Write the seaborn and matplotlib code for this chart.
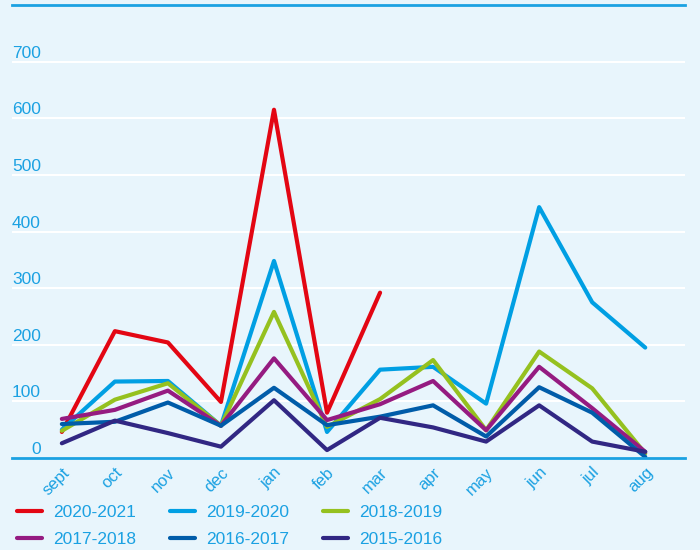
import numpy as np
import pandas as pd
import seaborn as sns
import matplotlib
matplotlib.use("Agg")
from matplotlib import pyplot as plt

# Monthly values per season
months = ["sept", "oct", "nov", "dec", "jan", "feb", "mar", "apr", "may", "jun", "jul", "aug"]
s2020_2021 = [46, 224, 204, 99, 615, 80, 292, np.nan, np.nan, np.nan, np.nan, np.nan]
s2019_2020 = [50, 135, 136, 57, 348, 46, 156, 161, 96, 443, 275, 195]
s2018_2019 = [48, 103, 132, 57, 258, 55, 104, 173, 49, 188, 123, 8]
s2017_2018 = [69, 85, 119, 57, 176, 67, 95, 136, 49, 161, 88, 11]
s2016_2017 = [60, 64, 98, 57, 124, 58, 73, 93, 38, 125, 80, 2]
s2015_2016 = [26, 66, 44, 20, 102, 14, 71, 54, 29, 93, 29, 11]
seasons = ["2020-2021", "2019-2020", "2018-2019", "2017-2018", "2016-2017", "2015-2016"]
colors = ["#e30613", "#009fe3", "#95c11f", "#951b81", "#005ca9", "#312783"]
yticks = [0, 100, 200, 300, 400, 500, 600, 700]

series = [s2020_2021, s2019_2020, s2018_2019, s2017_2018, s2016_2017, s2015_2016]
df = pd.concat(
    [pd.DataFrame({"month": months, "value": vals, "season": name}) for name, vals in zip(seasons, series)],
    ignore_index=True,
)

bg = "#e8f5fc"
txt = "#1ba1e2"

sns.set_theme(style="white")
plt.rcParams["font.family"] = ["Liberation Sans", "DejaVu Sans"]

fig = plt.figure(figsize=(7, 5.5), dpi=100, facecolor=bg)
ax = fig.add_axes([12 / 700, 1 - 458 / 550, 673 / 700, 453 / 550])
ax.set_facecolor(bg)

sns.lineplot(data=df, x="month", y="value", hue="season", hue_order=seasons,
             palette=colors, linewidth=3, sort=False, ax=ax)

ax.set_xlim(-0.94, 11.75)
ax.set_ylim(0, 800)
ax.set_xlabel("")
ax.set_ylabel("")

# white gridlines, labels drawn inside above each line
ax.set_yticks(yticks)
ax.set_yticklabels([])
ax.tick_params(axis="y", length=0)
for v in yticks[1:]:
    ax.axhline(v, color="white", lw=1.5, zorder=0)
for v in yticks:
    ax.text(29 / 673, v + 7, str(v), transform=ax.get_yaxis_transform(),
            ha="right", va="baseline", color=txt, fontsize=12.5)

ax.set_xticks(range(len(months)))
ax.set_xticklabels(months, rotation=45, ha="right", rotation_mode="anchor",
                   color=txt, fontsize=12)
ax.tick_params(axis="x", length=0, pad=5)

for side in ["left", "right"]:
    ax.spines[side].set_visible(False)
for side in ["top", "bottom"]:
    ax.spines[side].set_color(txt)
    ax.spines[side].set_linewidth(2)

handles, labels = ax.get_legend_handles_labels()
ax.get_legend().remove()
order = [0, 3, 1, 4, 2, 5]
leg = fig.legend([handles[i] for i in order], [labels[i] for i in order],
                 ncol=3, loc="upper left", bbox_to_anchor=(17 / 700, 1 - 505 / 550),
                 frameon=False, fontsize=12.5, handlelength=1.45, handletextpad=0.63,
                 columnspacing=1.95, labelspacing=0.68, borderpad=0, borderaxespad=0)
for t in leg.get_texts():
    t.set_color(txt)
for h in leg.get_lines():
    h.set_linewidth(3)

fig.savefig("out.png", dpi=100, facecolor=bg)
